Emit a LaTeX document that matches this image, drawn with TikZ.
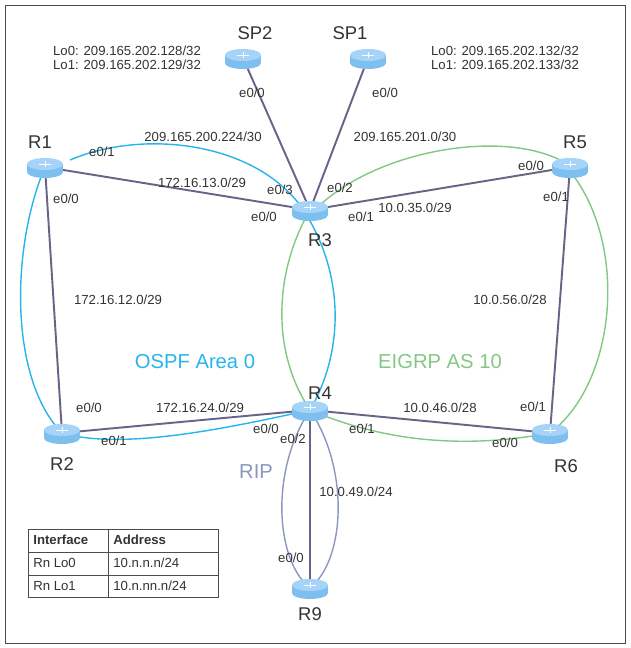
\documentclass[tikz,border=0pt]{standalone}
\usepackage{fontspec}
\setmainfont{Liberation Sans}
\usetikzlibrary{positioning}
\definecolor{rtblue}{RGB}{125,192,240}
\definecolor{rttop}{RGB}{165,212,248}
\definecolor{ospf}{RGB}{40,180,235}
\definecolor{eigrp}{RGB}{130,200,130}
\definecolor{ripc}{RGB}{140,150,190}
\definecolor{wire}{RGB}{105,100,135}
\tikzset{
  router/.style={circle,inner sep=0,minimum size=1pt},
  link/.style={wire,line width=1.1pt},
  iface/.style={font=\fontsize{7.5}{8}\selectfont,text=black!80,inner sep=0},
  net/.style={font=\fontsize{7.5}{8}\selectfont,text=black!80,inner sep=0},
  rname/.style={font=\fontsize{10.5}{11}\selectfont,text=black!80,inner sep=0},
  area/.style={font=\fontsize{11.5}{12}\selectfont,inner sep=0}
}
\newcommand{\routericon}[1]{%
  \begin{scope}[shift={(#1)}]
  \fill[rtblue] (0,5) ellipse[x radius=18,y radius=6];
  \fill[rtblue] (-18,-3) rectangle (18,5);
  \fill[rttop] (0,-3) ellipse[x radius=18,y radius=6];
  \draw[white,thin] (-6,-3) -- (6,-3) (0,-6) -- (0,0);
  \end{scope}}
\begin{document}
\begin{tikzpicture}[x=0.02cm,y=-0.02cm]
\useasboundingbox (0,0) rectangle (631,648);
\draw[black!70] (5,5) rectangle (625,643);
% areas
\draw[ospf,thick] (70,160) .. controls (140,130) and (250,140) .. (300,205)
  .. controls (345,270) and (345,350) .. (310,410)
  .. controls (220,430) and (120,450) .. (62,433)
  .. controls (10,380) and (10,250) .. (45,167);
\draw[eigrp,thick] (320,205) .. controls (380,150) and (500,130) .. (560,160)
  .. controls (630,230) and (620,380) .. (550,433)
  .. controls (460,450) and (380,440) .. (310,410)
  .. controls (270,350) and (275,270) .. (310,210);
\draw[ripc,thick] (310,410) .. controls (270,470) and (275,560) .. (310,588)
  .. controls (345,560) and (350,470) .. (310,410);
% routers
\node[router] (SP2) at (243,58) {};
\node[router] (SP1) at (368,58) {};
\node[router] (R1) at (45,167) {};
\node[router] (R3) at (310,210) {};
\node[router] (R5) at (570,167) {};
\node[router] (R2) at (62,433) {};
\node[router] (R4) at (310,410) {};
\node[router] (R6) at (550,433) {};
\node[router] (R9) at (310,588) {};
% links
\foreach \a/\b in {SP2/R3,SP1/R3,R1/R3,R3/R5,R1/R2,R2/R4,R4/R6,R5/R6,R4/R9}
  \draw[link] (\a) -- (\b);
\foreach \n in {SP2,SP1,R1,R3,R5,R2,R4,R6,R9}
  \routericon{\n};
% names
\node[rname] at (255,33) {SP2};
\node[rname] at (350,33) {SP1};
\node[rname] at (40,142) {R1};
\node[rname] at (320,240) {R3};
\node[rname] at (575,142) {R5};
\node[rname] at (62,464) {R2};
\node[rname] at (320,393) {R4};
\node[rname] at (566,466) {R6};
\node[rname] at (310,614) {R9};
% loopbacks
\node[net,align=left] at (127,58) {Lo0: 209.165.202.128/32\\Lo1: 209.165.202.129/32};
\node[net,align=left] at (505,58) {Lo0: 209.165.202.132/32\\Lo1: 209.165.202.133/32};
% networks
\node[net] at (203,137) {209.165.200.224/30};
\node[net] at (202,183) {172.16.13.0/29};
\node[net] at (405,137) {209.165.201.0/30};
\node[net] at (415,208) {10.0.35.0/29};
\node[net] at (118,300) {172.16.12.0/29};
\node[net] at (510,300) {10.0.56.0/28};
\node[net] at (200,408) {172.16.24.0/29};
\node[net] at (440,408) {10.0.46.0/28};
\node[net] at (356,492) {10.0.49.0/24};
% interfaces
\node[iface] at (102,152) {e0/1};
\node[iface] at (66,199) {e0/0};
\node[iface] at (252,93) {e0/0};
\node[iface] at (385,93) {e0/0};
\node[iface] at (280,190) {e0/3};
\node[iface] at (340,188) {e0/2};
\node[iface] at (264,217) {e0/0};
\node[iface] at (361,217) {e0/1};
\node[iface] at (531,166) {e0/0};
\node[iface] at (556,197) {e0/1};
\node[iface] at (89,408) {e0/0};
\node[iface] at (114,441) {e0/1};
\node[iface] at (266,429) {e0/0};
\node[iface] at (293,439) {e0/2};
\node[iface] at (362,429) {e0/1};
\node[iface] at (533,407) {e0/1};
\node[iface] at (505,443) {e0/0};
\node[iface] at (291,558) {e0/0};
% areas
\node[area,text=ospf] at (195,362) {OSPF Area 0};
\node[area,text=eigrp] at (440,362) {EIGRP AS 10};
\node[area,text=ripc] at (256,472) {RIP};
% table
\draw[black!70] (28,529) rectangle (218,597);
\draw[black!70] (28,552) -- (218,552) (28,575) -- (218,575) (108,529) -- (108,597);
\node[net,anchor=west,font=\fontsize{7.5}{8}\selectfont\bfseries] at (33,540) {Interface};
\node[net,anchor=west,font=\fontsize{7.5}{8}\selectfont\bfseries] at (113,540) {Address};
\node[net,anchor=west] at (33,563) {Rn Lo0};
\node[net,anchor=west] at (113,563) {10.n.n.n/24};
\node[net,anchor=west] at (33,586) {Rn Lo1};
\node[net,anchor=west] at (113,586) {10.n.nn.n/24};
\end{tikzpicture}
\end{document}
